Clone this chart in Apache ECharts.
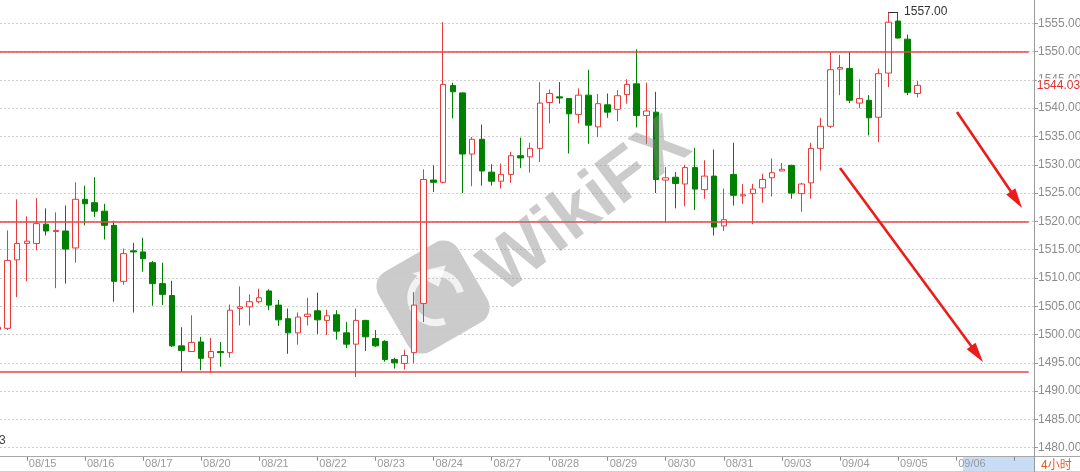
<!DOCTYPE html>
<html><head><meta charset="utf-8">
<script src="https://cdn.jsdelivr.net/npm/echarts/dist/echarts.min.js"></script>
<style>html,body{margin:0;padding:0;background:#fff}#c{width:1080px;height:472px}</style>
</head><body><div id="c"></div>
<script>
// ---- data ----
const dayLabels = ['08/14','08/15','08/16','08/17','08/20','08/21','08/22','08/23','08/24','08/27','08/28','08/29','08/30','08/31','09/03','09/04','09/05','09/06','09/07'];
const hours = ['00','04','08','12','16','20'];
const lastLabelledDay = '09/06';
const yTickMin = 1480, yTickMax = 1555, yTickStep = 5;

const open  = [1500.9,1501.1,1513.2,1516.1,1516.1,1519.5,1518.2,1518.3,1515.3,1523.9,1523.3,1521.8,1519.3,1509.4,1514.8,1514.6,1512.7,1509.0,1506.9,1498.0,1497.0,1498.7,1495.9,1497.0,1496.8,1504.6,1504.9,1505.8,1507.7,1505.2,1502.8,1500.3,1503.2,1504.2,1502.5,1503.5,1500.3,1498.3,1502.5,1499.3,1498.8,1495.6,1494.9,1496.8,1505.5,1527.3,1526.9,1544.0,1542.7,1531.9,1534.5,1528.7,1527.1,1528.3,1531.6,1531.4,1532.9,1541.0,1542.0,1541.7,1538.9,1542.3,1536.7,1540.6,1539.8,1542.4,1544.3,1538.7,1539.3,1527.3,1527.8,1526.6,1529.5,1525.6,1528.0,1519.2,1528.3,1524.5,1524.9,1525.9,1527.7,1528.9,1529.9,1524.9,1526.8,1532.9,1536.8,1546.9,1547.0,1540.9,1541.4,1538.4,1546.2,1555.4,1552.2,1542.6];
const close = [1501.3,1513.1,1516.1,1516.5,1519.6,1518.3,1518.4,1515.1,1523.9,1523.1,1521.8,1519.3,1509.4,1514.3,1514.6,1513.4,1509.0,1507.1,1498.0,1497.2,1498.6,1495.8,1497.0,1496.8,1504.3,1504.9,1505.8,1506.5,1505.2,1502.6,1500.3,1503.1,1503.6,1502.6,1503.3,1500.6,1498.3,1502.5,1499.6,1498.0,1495.6,1495.0,1496.3,1505.2,1527.4,1526.9,1544.2,1542.9,1531.9,1534.5,1528.9,1527.1,1528.3,1531.6,1531.2,1532.9,1540.9,1542.6,1541.8,1539.0,1542.3,1537.0,1540.8,1539.3,1542.2,1544.2,1538.7,1539.5,1527.4,1527.7,1526.7,1529.5,1525.7,1528.0,1519.0,1520.3,1524.6,1524.7,1525.7,1527.4,1528.6,1529.2,1525.0,1526.6,1532.9,1536.8,1546.8,1547.2,1541.4,1541.7,1538.3,1546.1,1555.2,1552.4,1542.8,1544.03];
const low   = [1500.4,1500.8,1506.6,1509.4,1514.9,1517.5,1508.2,1509.0,1512.7,1519.3,1520.8,1516.8,1505.8,1508.8,1503.9,1511.1,1505.1,1505.2,1497.8,1493.4,1496.9,1493.7,1493.2,1494.3,1495.9,1501.6,1501.6,1505.5,1504.3,1501.5,1496.6,1498.2,1501.6,1500.1,1499.9,1499.1,1497.6,1492.5,1497.1,1497.8,1495.2,1494.0,1493.8,1494.9,1502.2,1525.2,1526.7,1538.2,1525.0,1526.2,1526.3,1526.3,1525.8,1526.8,1529.4,1528.6,1530.5,1537.3,1540.8,1532.0,1537.3,1533.7,1534.9,1538.3,1537.7,1540.8,1536.6,1533.7,1525.0,1519.8,1522.3,1522.7,1522.0,1524.0,1517.5,1518.3,1522.8,1523.1,1519.5,1523.3,1524.4,1528.9,1524.0,1521.7,1524.0,1529.0,1536.5,1542.3,1540.9,1540.0,1535.2,1534.0,1543.7,1552.3,1542.3,1541.9];
const high  = [1501.8,1518.4,1523.9,1520.9,1524.1,1522.3,1521.6,1522.8,1526.9,1526.3,1527.8,1523.1,1520.1,1515.2,1516.2,1517.1,1513.0,1512.7,1509.5,1501.3,1503.4,1499.6,1499.4,1498.7,1505.3,1508.5,1507.1,1508.1,1508.0,1506.1,1504.6,1503.9,1506.5,1507.4,1504.4,1504.3,1502.2,1504.6,1502.6,1500.8,1499.0,1495.9,1497.3,1507.5,1529.2,1529.9,1555.2,1544.5,1542.8,1534.9,1537.1,1530.1,1530.2,1532.3,1534.8,1533.9,1544.6,1543.3,1544.6,1541.8,1543.5,1546.8,1542.5,1542.6,1543.2,1545.1,1550.4,1544.5,1542.9,1529.6,1528.7,1530.0,1533.0,1530.8,1532.7,1525.8,1533.9,1526.6,1526.6,1528.4,1531.1,1530.3,1530.0,1526.8,1533.9,1538.3,1549.9,1549.4,1549.9,1545.1,1542.3,1547.0,1557.0,1557.0,1553.0,1544.8];
const levelLines = [1550, 1520, 1493.4];
const highMarkValue = 1557.00;
const totalSlots = 107; // candle slots shown on the axis (data + empty future)

// ---- categories (4-hour bars, first slot = 08/14 12:00) ----
const categories = [];
for (let c = 0; c < totalSlots; c++) {
  const k = c - 3;
  const d = Math.floor(k / 6) + 1;
  const h = ((k % 6) + 6) % 6;
  categories.push(dayLabels[d] + ' ' + hours[h] + ':00');
}
const lastLabelIdx = dayLabels.indexOf(lastLabelledDay);
const isDayStart = v => v.slice(6, 8) === '00';
const showLabel = v => isDayStart(v) && dayLabels.indexOf(v.slice(0,5)) <= lastLabelIdx;

const candles = open.map((o, i) => [o, close[i], low[i], high[i]]);

// first bar reaching the highest high
let hiIdx = 0;
high.forEach((h, i) => { if (h > high[hiIdx]) hiIdx = i; });

// ---- layout ----
const band = 9.68;
const plotLeft = -7.02;
const plotWidth = band * totalSlots;
const axisX = 1034;
const plotBottomY = 456.7;
const pxPerUnit = 5.659;
const topGridY = 23.3;
const dataMax = yTickMax + topGridY / pxPerUnit;
const dataMin = dataMax - plotBottomY / pxPerUnit;
const tickGridH = (yTickMax - yTickMin) * pxPerUnit;

const FONT = '"Liberation Sans", Arial, sans-serif';
const RED = '#e83b3b';
const GREEN = '#008000';

function arrow(x1, y1, x2, y2) {
  const dx = x2 - x1, dy = y2 - y1, L = Math.hypot(dx, dy), ux = dx / L, uy = dy / L;
  const hl = 20, hw = 5.5;
  const bx = x2 - ux * hl, by = y2 - uy * hl;
  return [
    { type: 'line', z: 60, shape: { x1, y1, x2: bx + ux * 2, y2: by + uy * 2 }, style: { stroke: '#ee1b1b', lineWidth: 2.6 } },
    { type: 'polygon', z: 60, shape: { points: [[x2, y2], [bx - uy * hw, by + ux * hw], [bx + uy * hw, by - ux * hw]] }, style: { fill: '#ee1b1b' } }
  ];
}

const chart = echarts.init(document.getElementById('c'), null, { renderer: 'canvas' });
chart.setOption({
  animation: false,
  backgroundColor: '#ffffff',
  grid: [
    { left: plotLeft, width: plotWidth, top: 0, height: plotBottomY, outerBoundsMode: 'none', containLabel: false },
    { left: 0, right: 1080 - axisX, top: topGridY, height: tickGridH, outerBoundsMode: 'none', containLabel: false }
  ],
  xAxis: [
    {
      type: 'category', gridIndex: 0, data: categories, boundaryGap: true,
      axisLine: { show: false },
      axisTick: { show: true, alignWithLabel: true, length: 4, interval: (i, v) => isDayStart(v), lineStyle: { color: '#888' } },
      axisLabel: {
        interval: (i, v) => showLabel(v), formatter: v => v.slice(0, 5),
        align: 'left', margin: 2, padding: [0, 0, 0, 2], fontSize: 11, color: '#9a9a9a', fontFamily: FONT,
        hideOverlap: false
      },
      splitLine: { show: false }
    },
    { type: 'category', gridIndex: 1, data: categories, show: false }
  ],
  yAxis: [
    { type: 'value', gridIndex: 0, min: dataMin, max: dataMax, show: false, scale: true },
    {
      type: 'value', gridIndex: 1, position: 'right', min: yTickMin, max: yTickMax, interval: yTickStep,
      axisLine: { show: false },
      axisTick: { show: true, length: 4, lineStyle: { color: '#999' } },
      axisLabel: { margin: 4, fontSize: 12, color: '#8c8c8c', fontFamily: FONT, formatter: v => v.toFixed(2) },
      splitLine: { show: true, lineStyle: { color: '#cfcfcf', type: [2, 2], width: 1 } }
    }
  ],
  series: [{
    type: 'candlestick',
    xAxisIndex: 0, yAxisIndex: 0,
    data: candles,
    barWidth: 6,
    clip: false,
    z: 3,
    itemStyle: { color: '#ffffff', color0: GREEN, borderColor: RED, borderColor0: GREEN, borderWidth: 1 },
    markLine: {
      silent: true, symbol: 'none', animation: false,
      data: [
        ...levelLines.map(v => ({ yAxis: v, lineStyle: { color: '#e64646', width: 1.5, type: 'solid' }, label: { show: false } })),
        [
          { coord: [categories[hiIdx], highMarkValue] },
          { coord: [categories[hiIdx + 1], highMarkValue] }
        ]
      ],
      lineStyle: { color: '#333', width: 1, type: 'solid' },
      label: { show: true, position: 'end', distance: 6, formatter: () => highMarkValue.toFixed(2), color: '#333', fontSize: 12, fontFamily: FONT }
    }
  }, {
    // last price tag on the price scale
    type: 'line', xAxisIndex: 0, yAxisIndex: 0, data: [], silent: true,
    markLine: {
      silent: true, symbol: 'none', animation: false,
      data: [{ yAxis: close[close.length - 1] }],
      lineStyle: { color: 'rgba(0,0,0,0)', width: 0 },
      label: { show: true, position: 'end', distance: 8, formatter: p => Number(p.value).toFixed(2), color: '#e03030',
               fontSize: 12, fontFamily: FONT, backgroundColor: '#ffffff', padding: [1, 0, 1, 0] }
    }
  }],
  graphic: [
    { type: 'rect', z: -1, shape: { x: 963, y: 457, width: axisX - 963, height: 14 }, style: { fill: '#c8ddf5' } },
    { type: 'line', z: 40, shape: { x1: 0, y1: 456.5, x2: 1080, y2: 456.5 }, style: { stroke: '#a8a8a8', lineWidth: 1 } },
    { type: 'line', z: 40, shape: { x1: 0, y1: 471.5, x2: 1080, y2: 471.5 }, style: { stroke: '#d0d0d0', lineWidth: 1 } },
    { type: 'line', z: 40, shape: { x1: axisX + 0.5, y1: 0, x2: axisX + 0.5, y2: 472 }, style: { stroke: '#9a9a9a', lineWidth: 1 } },
    { type: 'text', z: 40, x: 1041, y: 464, style: { text: '4小时', fill: '#ee5a24', font: '12px "Noto Sans CJK SC", sans-serif', verticalAlign: 'middle' } },
    { type: 'text', z: 40, x: -1, y: 441, style: { text: '3', fill: '#444', font: '12px ' + FONT, verticalAlign: 'middle' } },
    // watermark
    { type: 'group', x: 433, y: 297, rotation: Math.PI / 6, z: 50, children: [
      { type: 'rect', shape: { x: -46, y: -46, width: 92, height: 92, r: 17 }, style: { fill: 'rgba(140,140,140,0.45)' } },
      { type: 'arc', shape: { cx: 2, cy: 2, r: 25, startAngle: Math.PI * 0.55, endAngle: Math.PI * 2.1 }, style: { stroke: 'rgba(255,255,255,0.75)', lineWidth: 7, fill: null } },
      { type: 'polygon', shape: { points: [[-6, -31], [27, -21], [10, -6]] }, style: { fill: 'rgba(255,255,255,0.75)' } }
    ] },
    { type: 'text', z: 50, x: 586, y: 207, rotation: 37 * Math.PI / 180,
      style: { text: 'WikiFX', font: 'bold 72px ' + FONT, fill: 'rgba(140,140,140,0.45)', align: 'center', verticalAlign: 'middle' } },
    // annotation arrows
    ...arrow(957, 112, 1022, 208),
    ...arrow(840, 168, 983, 362)
  ]
});
</script></body></html>
